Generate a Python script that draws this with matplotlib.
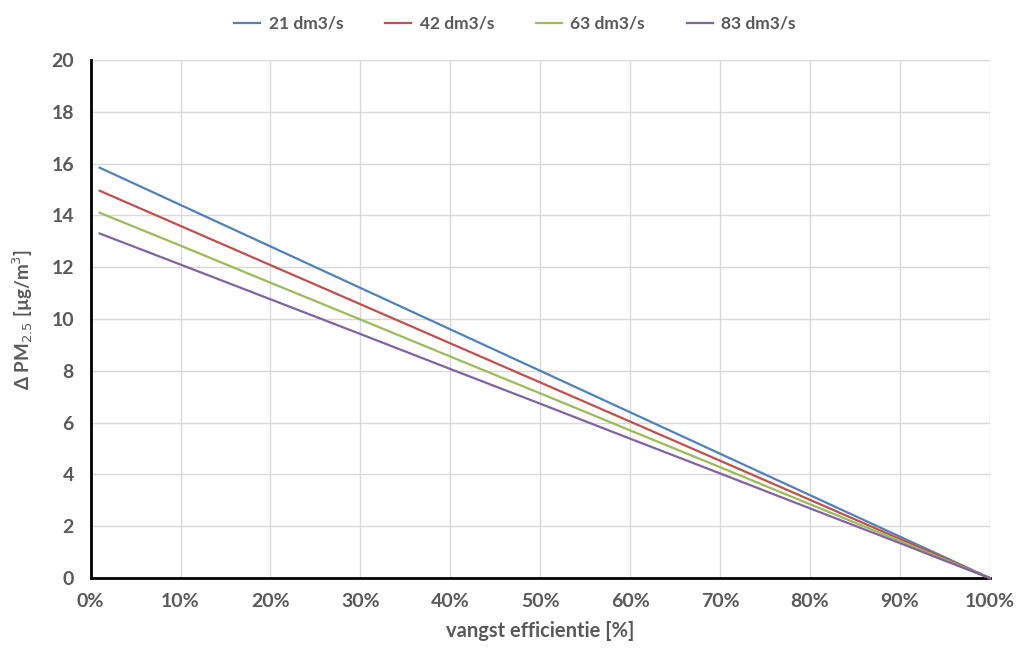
import matplotlib
matplotlib.use("Agg")
import matplotlib.pyplot as plt
from matplotlib.ticker import FuncFormatter

efficiency = [1, 10, 20, 30, 40, 50, 60, 70, 80, 90, 95, 100]
series_labels = ["21 dm3/s", "42 dm3/s", "63 dm3/s", "83 dm3/s"]
flow_21 = [15.84, 14.4, 12.8, 11.2, 9.6, 8.0, 6.4, 4.8, 3.2, 1.6, 0.8, 0.0]
flow_42 = [14.95, 13.59, 12.08, 10.57, 9.06, 7.55, 6.04, 4.53, 3.02, 1.51, 0.76, 0.0]
flow_63 = [14.1, 12.83, 11.4, 9.98, 8.55, 7.13, 5.7, 4.28, 2.85, 1.43, 0.71, 0.0]
flow_83 = [13.3, 12.1, 10.76, 9.42, 8.07, 6.73, 5.38, 4.04, 2.69, 1.35, 0.67, 0.0]
colors = ["#4F81BD", "#C0504D", "#9BBB59", "#8064A2"]

plt.rcParams['font.family'] = ['Lato', 'DejaVu Sans']
grey = "#595959"

fig = plt.figure(figsize=(10.30, 6.51), dpi=100)
ax = fig.add_axes([0.088, 0.112, 0.873, 0.796])

for vals, lab, c in zip([flow_21, flow_42, flow_63, flow_83], series_labels, colors):
    ax.plot(efficiency, vals, color=c, lw=1.6, label=lab, clip_on=False, zorder=3)

ax.set_xlim(0, 100)
ax.set_ylim(0, 20)
ax.set_xticks(range(0, 101, 10))
ax.set_yticks(range(0, 21, 2))
ax.xaxis.set_major_formatter(FuncFormatter(lambda v, p: f"{int(v)}%"))
ax.grid(True, color="#d9d9d9", lw=1)
ax.set_axisbelow(True)
for s in ["top", "right"]:
    ax.spines[s].set_visible(False)
for s in ["left", "bottom"]:
    ax.spines[s].set_color("black")
    ax.spines[s].set_linewidth(2)
    ax.spines[s].set_zorder(2)
ax.tick_params(axis="x", length=0, labelsize=14, colors=grey, pad=11)
ax.tick_params(axis="y", length=0, labelsize=14, colors=grey, pad=12)
for lbl in ax.get_xticklabels() + ax.get_yticklabels():
    lbl.set_fontweight("bold")

ax.set_xlabel("vangst efficientie [%]", fontsize=14.5, fontweight="bold", color=grey, labelpad=8)
ax.set_ylabel("Δ PM$_{2.5}$ [µg/m$^3$]", fontsize=13.5, fontweight="bold", color=grey, labelpad=12)

leg = fig.legend(loc="upper center", bbox_to_anchor=(0.5, 1.0), ncol=4, frameon=False,
                 fontsize=12.5, handlelength=1.5, handletextpad=0.5, columnspacing=2.4)
for t in leg.get_texts():
    t.set_color(grey)
    t.set_fontweight("bold")

fig.savefig("out.png", dpi=100)
